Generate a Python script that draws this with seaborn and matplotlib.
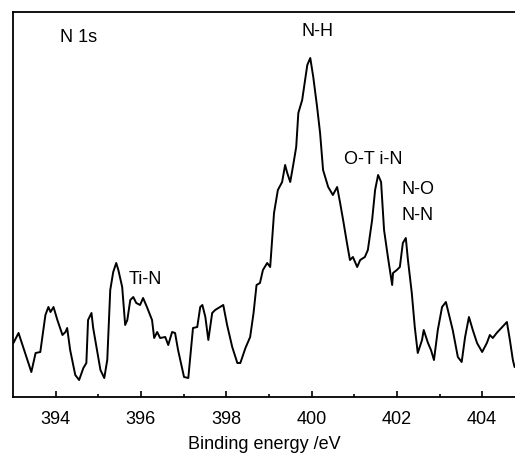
import numpy as np
import pandas as pd
import matplotlib
matplotlib.use("Agg")
import matplotlib.pyplot as plt
import seaborn as sns

# N 1s XPS spectrum (intensity in arb. units)
binding_energy = [
    393.01, 393.13, 393.43, 393.53, 393.64, 393.76, 393.83, 393.88, 393.95, 394.04,
    394.16, 394.23, 394.27, 394.34, 394.46, 394.55, 394.65, 394.72, 394.76, 394.84,
    394.88, 394.98, 395.05, 395.14, 395.21, 395.28, 395.35, 395.42, 395.47, 395.56,
    395.63, 395.68, 395.75, 395.82, 395.89, 395.98, 396.05, 396.14, 396.26, 396.31,
    396.38, 396.45, 396.57, 396.64, 396.73, 396.80, 396.87, 397.01, 397.11, 397.22,
    397.32, 397.39, 397.44, 397.51, 397.58, 397.67, 397.74, 397.93, 398.02, 398.14,
    398.26, 398.33, 398.45, 398.56, 398.64, 398.71, 398.79, 398.86, 398.96, 399.03,
    399.07, 399.12, 399.21, 399.31, 399.38, 399.43, 399.50, 399.57, 399.64, 399.69,
    399.78, 399.85, 399.90, 399.97, 400.04, 400.13, 400.20, 400.27, 400.39, 400.50,
    400.60, 400.67, 400.74, 400.83, 400.90, 400.97, 401.07, 401.14, 401.25, 401.32,
    401.42, 401.49, 401.56, 401.63, 401.70, 401.79, 401.89, 401.91, 402.00, 402.07,
    402.14, 402.21, 402.26, 402.35, 402.42, 402.49, 402.59, 402.63, 402.73, 402.80,
    402.87, 402.96, 403.06, 403.15, 403.31, 403.43, 403.52, 403.60, 403.69, 403.78,
    403.88, 404.00, 404.11, 404.18, 404.25, 404.34, 404.45, 404.58, 404.65, 404.72,
    404.76,
]
intensity = [
    54, 64, 25, 44, 45, 82, 90, 85, 90, 77,
    62, 65, 69, 47, 22, 17, 29, 34, 77, 84,
    69, 44, 27, 19, 37, 107, 125, 134, 127, 110,
    72, 77, 97, 100, 94, 92, 99, 90, 77, 59,
    65, 59, 60, 52, 65, 64, 47, 20, 19, 69,
    70, 90, 92, 80, 57, 84, 87, 92, 72, 50,
    34, 34, 49, 60, 84, 112, 114, 127, 134, 130,
    154, 184, 207, 215, 232, 224, 215, 232, 250, 284,
    297, 317, 332, 339, 320, 290, 264, 227, 210, 202,
    210, 194, 177, 154, 137, 140, 130, 137, 140, 147,
    177, 207, 222, 215, 167, 140, 112, 124, 127, 130,
    154, 159, 137, 104, 70, 44, 57, 67, 54, 47,
    37, 67, 90, 95, 67, 40, 35, 60, 80, 67,
    54, 45, 54, 62, 59, 64, 69, 75, 57, 37,
    30,
]

peak_labels = ["N 1s", "N-H", "Ti-N", "O-T i-N", "N-O", "N-N"]
label_x = [394.11, 400.13, 395.70, 400.76, 402.12, 402.12]
label_y = [359, 365, 118, 237, 207, 182]
label_ha = ["left", "center", "left", "left", "left", "left"]

df = pd.DataFrame({"BE": binding_energy, "I": intensity})

sns.set_style("ticks")
plt.rcParams["font.family"] = ["Liberation Sans", "DejaVu Sans"]
plt.rcParams.update({"text.color": "black", "axes.labelcolor": "black",
                     "axes.edgecolor": "black", "xtick.color": "black"})

fig = plt.figure(figsize=(5.15, 4.53), dpi=100)
ax = fig.add_axes([13 / 515, 56 / 453, 502 / 515, 385 / 453])

sns.lineplot(data=df, x="BE", y="I", color="black", linewidth=1.4, ax=ax,
             estimator=None, sort=False)

for txt, x, y, ha in zip(peak_labels, label_x, label_y, label_ha):
    ax.text(x, y, txt, ha=ha, va="center", fontsize=13)

ax.set_xlim(393.0, 404.77)
ax.set_ylim(0, 385)
ax.set_xticks(range(394, 405, 2))
ax.set_xticks(range(395, 405, 2), minor=True)
ax.set_yticks([])
ax.tick_params(axis="x", which="major", direction="in", length=4, width=1.2,
               labelsize=13, pad=10)
ax.tick_params(axis="x", which="minor", direction="in", length=2.5, width=1.2)
ax.set_xlabel("Binding energy /eV", fontsize=13, labelpad=5.5)
ax.set_ylabel("")
ax.spines["right"].set_visible(False)
for s in ["left", "top", "bottom"]:
    ax.spines[s].set_linewidth(1.3)

fig.savefig("out.png", dpi=100)
